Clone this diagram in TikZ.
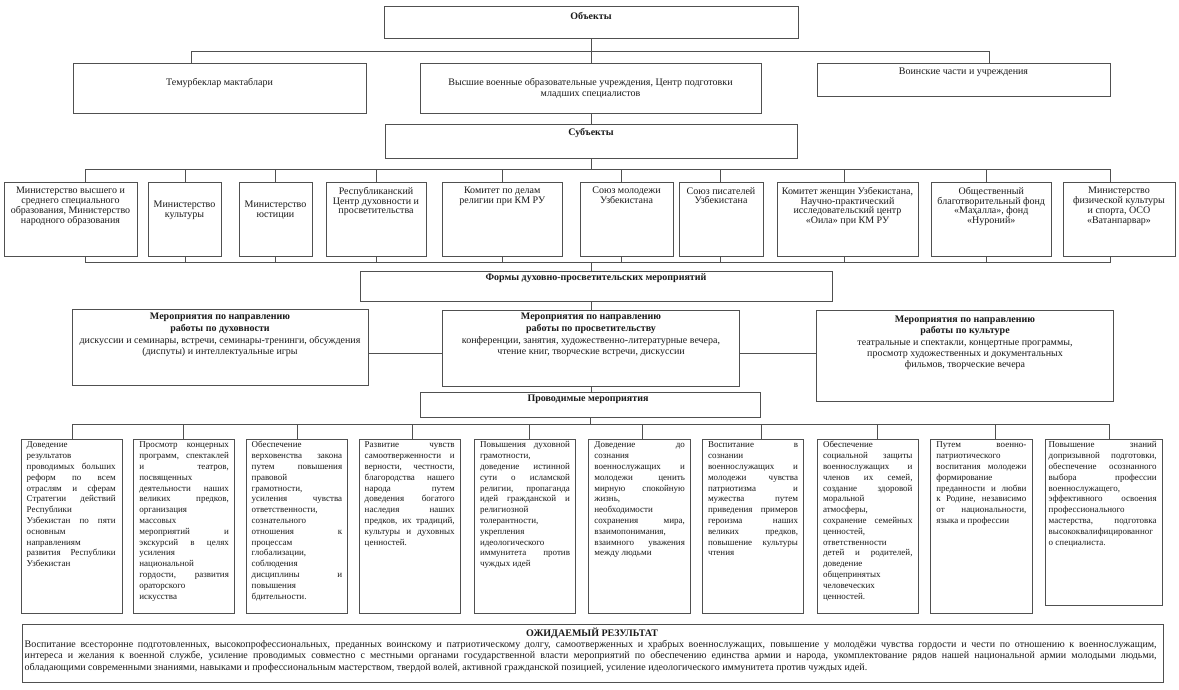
\documentclass[tikz,border=0pt]{standalone}
\usepackage{fontspec}
\setmainfont{Liberation Serif}
\usetikzlibrary{fit}
\definecolor{lc}{HTML}{505050}
\definecolor{tc}{HTML}{1A1A1A}
\newcommand\jln[1]{\hbox to\hsize{\strut#1}}
\newcommand\lln[1]{\hbox to\hsize{\strut#1\hfil}}
\newcommand\tbox[2]{\vbox{\hsize=#1pt\relax#2}}
\tikzset{
  bx/.style={draw=lc, line width=1pt, inner sep=0pt},
  ln/.style={draw=lc, line width=0.9pt},
  ttl/.style={font=\fontsize{10}{12}\selectfont\bfseries, inner sep=0pt, text=tc},
  one/.style={font=\fontsize{10}{12}\selectfont, inner sep=0pt, text=tc},
  ctx/.style={font=\fontsize{10}{11.6}\selectfont, align=center, inner sep=0pt, anchor=north, text=tc},
  sub/.style={font=\fontsize{10}{9.8}\selectfont, align=center, inner sep=0pt, anchor=north, text=tc},
  btx/.style={font=\fontsize{9}{10.8}\selectfont, inner sep=0pt, anchor=north west, text=tc},
  rtx/.style={font=\fontsize{10}{10}\selectfont, inner sep=0pt, anchor=north west, text=tc},
}
\begin{document}
\begin{tikzpicture}[x=1pt,y=-1pt]
\useasboundingbox (0,0) rectangle (1179,689);
\fill[white] (0,0) rectangle (1179,689);

% ---------- Objects ----------
\node[bx, fit={(384,6) (798,38)}] (objects) {};
\node[ttl] (tobjects) at (591,16) {Объекты};

\node[bx, fit={(73,63) (366,113)}] (temur) {};
\node[one] (ttemur) at (219.5,82.5) {Темурбеклар мактаблари};
\node[bx, fit={(420,63) (761,113)}] (vysshie) {};
\node[ctx, font=\fontsize{10}{11.4}\selectfont] (tvysshie) at (590.5,77.8) {Высшие военные образовательные учреждения, Центр подготовки\\младших специалистов};
\node[bx, fit={(817,63) (1110,96)}] (voin) {};
\node[one] (tvoin) at (963.5,72.5) {Воинские части и учреждения};

\coordinate (oL) at (191,51);
\coordinate (oR) at (989,51);
\draw[ln] (oL |- temur.north) -- (oL) -- (oR) -- (oR |- voin.north);
\draw[ln] (objects.south) -- (objects.south |- vysshie.north);

% ---------- Subjects ----------
\node[bx, fit={(385,124) (797,158)}] (subjects) {};
\node[ttl] (tsubjects) at (591,133.3) {Субъекты};
\draw[ln] (objects.south |- vysshie.south) -- (subjects.north);

\node[bx, fit={(4,182) (137,256)}] (s1) {};
\node[bx, fit={(148,182) (221,256)}] (s2) {};
\node[bx, fit={(239,182) (312,256)}] (s3) {};
\node[bx, fit={(326,182) (426,256)}] (s4) {};
\node[bx, fit={(442.5,182) (562,256)}] (s5) {};
\node[bx, fit={(580,182) (673,256)}] (s6) {};
\node[bx, fit={(679,182) (763,256)}] (s7) {};
\node[bx, fit={(777,182) (918,256)}] (s8) {};
\node[bx, fit={(931,182) (1051.5,256)}] (s9) {};
\node[bx, fit={(1063,182) (1175,256)}] (s10) {};

\node[sub] (ts1) at (70.5,187) {Министерство высшего и\\среднего специального\\образования, Министерство\\народного образования};
\node[sub] (ts2) at (184.5,201) {Министерство\\культуры};
\node[sub] (ts3) at (275.5,201) {Министерство\\юстиции};
\node[sub] (ts4) at (376,187) {Республиканский\\Центр духовности и\\просветительства};
\node[sub] (ts5) at (502.25,187) {Комитет по делам\\религии при КМ РУ};
\node[sub] (ts6) at (626.5,187) {Союз молодежи\\Узбекистана};
\node[sub] (ts7) at (721,187) {Союз писателей\\Узбекистана};
\node[sub] (ts8) at (847.5,187) {Комитет женщин Узбекистана,\\Научно-практический\\исследовательский центр\\«Оила» при КМ РУ};
\node[sub] (ts9) at (991.25,187) {Общественный\\благотворительный фонд\\«Маҳалла», фонд\\«Нуроний»};
\node[sub] (ts10) at (1119,187) {Министерство\\физической культуры\\и спорта, ОСО\\«Ватанпарвар»};

\coordinate (st1) at (85,169.3);   \coordinate (sb1) at (85,262.7);
\coordinate (st2) at (185,169.3);  \coordinate (sb2) at (185,262.7);
\coordinate (st3) at (275,169.3);  \coordinate (sb3) at (275,262.7);
\coordinate (st4) at (376,169.3);  \coordinate (sb4) at (376,262.7);
\coordinate (st5) at (502,169.3);  \coordinate (sb5) at (502,262.7);
\coordinate (st6) at (621,169.3);  \coordinate (sb6) at (621,262.7);
\coordinate (st7) at (720,169.3);  \coordinate (sb7) at (720,262.7);
\coordinate (st8) at (844,169.3);  \coordinate (sb8) at (844,262.7);
\coordinate (st9) at (986,169.3);  \coordinate (sb9) at (986,262.7);
\coordinate (st10) at (1110,169.3); \coordinate (sb10) at (1110,262.7);
\draw[ln] (st1) -- (st10);
\draw[ln] (sb1) -- (sb10);
\draw[ln] (subjects.south) -- (subjects.south |- st1);
\foreach \i in {1,...,10}{
  \draw[ln] (st\i) -- (st\i |- s\i.north);
  \draw[ln] (sb\i) -- (sb\i |- s\i.south);
}

% ---------- Forms ----------
\node[bx, fit={(360.6,271.7) (832,301)}] (forms) {};
\node[ttl] (tforms) at (596,278.5) {Формы духовно-просветительских мероприятий};

\node[bx, fit={(72,309.3) (368,385)}] (m1) {};
\node[bx, fit={(442.5,310.7) (739.5,386)}] (m2) {};
\node[bx, fit={(816.3,310.7) (1113.8,401)}] (m3) {};
\node[ctx] (tm1) at (220,313.2) {\textbf{Мероприятия по направлению}\\\textbf{работы по духовности}\\дискуссии и семинары, встречи, семинары-тренинги, обсуждения\\(диспуты) и интеллектуальные игры};
\node[ctx] (tm2) at (591,313.2) {\textbf{Мероприятия по направлению}\\\textbf{работы по просветительству}\\конференции, занятия, художественно-литературные вечера,\\чтение книг, творческие встречи, дискуссии};
\node[ctx, font=\fontsize{10}{11.4}\selectfont] (tm3) at (965,315.5) {\textbf{Мероприятия по направлению}\\\textbf{работы по культуре}\\театральные и спектакли, концертные программы,\\просмотр художественных и документальных\\фильмов, творческие вечера};

\coordinate (hl) at (0,353);
\draw[ln] (m2.north |- sb1) -- (m2.north |- forms.north);
\draw[ln] (m2.north |- forms.south) -- (m2.north);
\draw[ln] (m1.east |- hl) -- (m2.west |- hl);
\draw[ln] (m2.east |- hl) -- (m3.west |- hl);

% ---------- Conducted events ----------
\node[bx, fit={(420.7,392.7) (760.5,417.3)}] (prov) {};
\node[ttl] (tprov) at (588,399.3) {Проводимые мероприятия};
\draw[ln] (m2.south) -- (m2.south |- prov.north);

\node[bx, fit={(21,439.3) (122,613.3)}] (b1) {};
\node[bx, fit={(133.7,439.3) (234.3,613.3)}] (b2) {};
\node[bx, fit={(246,439.3) (347.7,613.3)}] (b3) {};
\node[bx, fit={(359,439.3) (460,613.3)}] (b4) {};
\node[bx, fit={(474.3,439.3) (575.3,613.3)}] (b5) {};
\node[bx, fit={(588.7,439.3) (690.7,613.3)}] (b6) {};
\node[bx, fit={(702.3,439.3) (803.3,613.3)}] (b7) {};
\node[bx, fit={(817.3,439.3) (918,613.3)}] (b8) {};
\node[bx, fit={(930.7,439.3) (1032,613.3)}] (b9) {};
\node[bx, fit={(1045,439.3) (1162.3,605)}] (b10) {};

\coordinate (pb1) at (72.7,424);
\coordinate (pb2) at (183.3,424);
\coordinate (pb3) at (297,424);
\coordinate (pb4) at (412.7,424);
\coordinate (pb5) at (529.7,424);
\coordinate (pb6) at (642.3,424);
\coordinate (pb7) at (761,424);
\coordinate (pb8) at (877.7,424);
\coordinate (pb9) at (995,424);
\coordinate (pb10) at (1109,424);
\draw[ln] (pb1) -- (pb10);
\draw[ln] (prov.south) -- (prov.south |- pb1);
\foreach \i in {1,...,10}{
  \draw[ln] (pb\i) -- (pb\i |- b\i.north);
}

\node[btx] (tb1) at (26.5,440.2) {\tbox{89}{%
\lln{Доведение}
\lln{результатов}
\jln{проводимых больших}
\jln{реформ по всем}
\jln{отраслям и сферам}
\jln{Стратегии действий}
\lln{Республики}
\jln{Узбекистан по пяти}
\lln{основным}
\lln{направлениям}
\jln{развития Республики}
\lln{Узбекистан}}};

\node[btx] (tb2) at (139.2,440.2) {\tbox{89.5}{%
\jln{Просмотр концерных}
\jln{программ, спектаклей}
\jln{и театров,}
\lln{посвященных}
\jln{деятельности наших}
\jln{великих предков,}
\lln{организация}
\lln{массовых}
\jln{мероприятий и}
\jln{экскурсий в целях}
\lln{усиления}
\lln{национальной}
\jln{гордости, развития}
\lln{ораторского}
\lln{искусства}}};

\node[btx] (tb3) at (251.5,440.2) {\tbox{90.5}{%
\lln{Обеспечение}
\jln{верховенства закона}
\jln{путем повышения}
\lln{правовой}
\lln{грамотности,}
\jln{усиления чувства}
\lln{ответственности,}
\lln{сознательного}
\jln{отношения к}
\lln{процессам}
\lln{глобализации,}
\lln{соблюдения}
\jln{дисциплины и}
\lln{повышения}
\lln{бдительности.}}};

\node[btx] (tb4) at (364.5,440.2) {\tbox{90}{%
\jln{Развитие чувств}
\jln{самоотверженности и}
\jln{верности, честности,}
\jln{благородства нашего}
\jln{народа путем}
\jln{доведения богатого}
\jln{наследия наших}
\jln{предков, их традиций,}
\jln{культуры и духовных}
\lln{ценностей.}}};

\node[btx] (tb5) at (479.8,440.2) {\tbox{90}{%
\jln{Повышения духовной}
\lln{грамотности,}
\jln{доведение истинной}
\jln{сути о исламской}
\jln{религии, пропаганда}
\jln{идей гражданской и}
\lln{религиозной}
\lln{толерантности,}
\lln{укрепления}
\lln{идеологического}
\jln{иммунитета против}
\lln{чуждых идей}}};

\node[btx] (tb6) at (594.2,440.2) {\tbox{90.5}{%
\jln{Доведение до}
\lln{сознания}
\jln{военнослужащих и}
\jln{молодежи ценить}
\jln{мирную спокойную}
\lln{жизнь,}
\lln{необходимости}
\jln{сохранения мира,}
\lln{взаимопонимания,}
\jln{взаимного уважения}
\lln{между людьми}}};

\node[btx] (tb7) at (707.8,440.2) {\tbox{90}{%
\jln{Воспитание в}
\lln{сознании}
\jln{военнослужащих и}
\jln{молодежи чувства}
\jln{патриотизма и}
\jln{мужества путем}
\jln{приведения примеров}
\jln{героизма наших}
\jln{великих предков,}
\jln{повышение культуры}
\lln{чтения}}};

\node[btx] (tb8) at (822.8,440.2) {\tbox{89.5}{%
\lln{Обеспечение}
\jln{социальной защиты}
\jln{военнослужащих и}
\jln{членов их семей,}
\jln{создание здоровой}
\lln{моральной}
\lln{атмосферы,}
\jln{сохранение семейных}
\lln{ценностей,}
\lln{ответственности}
\jln{детей и родителей,}
\lln{доведение}
\lln{общепринятых}
\lln{человеческих}
\lln{ценностей.}}};

\node[btx] (tb9) at (936.2,440.2) {\tbox{90}{%
\jln{Путем военно-}
\lln{патриотического}
\jln{воспитания молодежи}
\lln{формирование}
\jln{преданности и любви}
\jln{к Родине, независимо}
\jln{от национальности,}
\lln{языка и профессии}}};

\node[btx] (tb10) at (1048.5,440.2) {\tbox{108}{%
\jln{Повышение знаний}
\jln{допризывной подготовки,}
\jln{обеспечение осознанного}
\jln{выбора профессии}
\lln{военнослужащего,}
\jln{эффективного освоения}
\lln{профессионального}
\jln{мастерства, подготовка}
\lln{высококвалифицированног}
\lln{о специалиста.}}};

% ---------- Expected result ----------
\node[bx, fit={(22,624.7) (1163,682.7)}] (result) {};
\node[ttl] (tresult) at (592,633.5) {ОЖИДАЕМЫЙ РЕЗУЛЬТАТ};
\node[rtx] (rbody) at (24.5,640.4) {\tbox{1132}{%
\jln{Воспитание всесторонне подготовленных, высокопрофессиональных, преданных воинскому и патриотическому долгу, самоотверженных и храбрых военнослужащих, повышение у молодёжи чувства гордости и чести по отношению к военнослужащим,}
\jln{интереса и желания к военной службе, усиление проводимых совместно с местными органами государственной власти мероприятий по обеспечению единства армии и народа, укомплектование рядов нашей национальной армии молодыми людьми,}
\lln{обладающими современными знаниями, навыками и профессиональным мастерством, твердой волей, активной гражданской позицией, усиление идеологического иммунитета против чуждых идей.}}};
\end{tikzpicture}
\end{document}
